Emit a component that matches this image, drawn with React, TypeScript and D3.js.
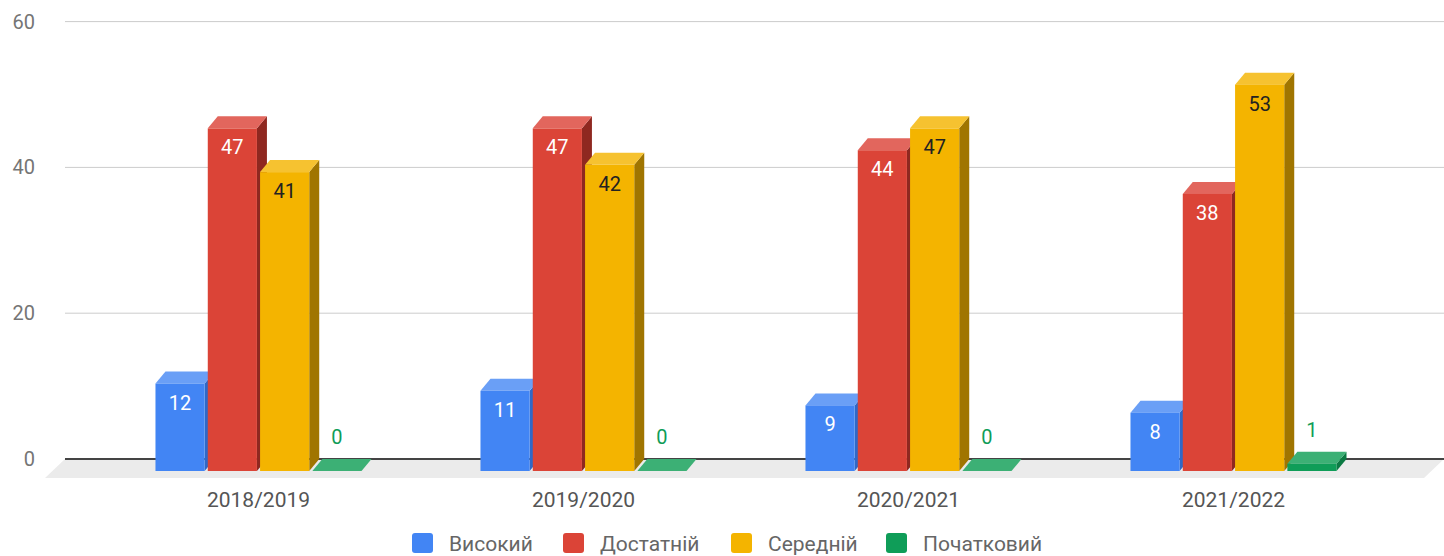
import React from "react";
import * as d3 from "d3";

const categories = ["2018/2019", "2019/2020", "2020/2021", "2021/2022"];
const seriesNames = ["Високий", "Достатній", "Середній", "Початковий"];
const highValues = [12, 11, 9, 8];
const sufficientValues = [47, 47, 44, 38];
const mediumValues = [41, 42, 47, 53];
const initialValues = [0, 0, 0, 1];
const yTicks = [0, 20, 40, 60];

const seriesValues = [highValues, sufficientValues, mediumValues, initialValues];
const colors = {
  front: ["#4285f4", "#db4437", "#f4b400", "#0f9d58"],
  top: ["#6a9ff6", "#e2665d", "#f6c230", "#3cb075"],
  side: ["#2f68c7", "#8f2820", "#a07500", "#0b7a43"],
  label: ["#ffffff", "#ffffff", "#222222", "#0f9d58"],
};

const W = 1444;
const H = 556;
const DX = 10;
const DY = 12;
const FLOOR_DX = 20;
const FLOOR_DY = 19;
const BACK_ZERO = 459;
const FRONT_ZERO = BACK_ZERO + DY;
const PX_PER_UNIT = 7.29;
const FONT = "Roboto, 'Noto Sans', Arial, sans-serif";

export default function App() {
  const yBack = d3.scaleLinear().domain([0, 60]).range([BACK_ZERO, BACK_ZERO - 60 * PX_PER_UNIT]);
  const yFront = d3.scaleLinear().domain([0, 60]).range([FRONT_ZERO, FRONT_ZERO - 60 * PX_PER_UNIT]);
  const x0 = d3.scaleBand<string>().domain(categories).range([96, 1396]).paddingInner(0.366).paddingOuter(0.183);
  const x1 = d3.scaleBand<string>().domain(seriesNames).range([0, x0.bandwidth()]).paddingInner(0.06).paddingOuter(0);
  const bw = x1.bandwidth();

  const bars: React.ReactNode[] = [];
  categories.forEach((cat, ci) => {
    seriesNames.forEach((s, si) => {
      const v = seriesValues[si][ci];
      const x = (x0(cat) ?? 0) + (x1(s) ?? 0);
      const yT = yFront(v);
      const yB = yFront(0);
      const key = `${ci}-${si}`;
      bars.push(
        <g key={key}>
          <polygon
            points={`${x + bw},${yT} ${x + bw + DX},${yT - DY} ${x + bw + DX},${yB - DY} ${x + bw},${yB}`}
            fill={colors.side[si]}
          />
          <polygon
            points={`${x},${yT} ${x + DX},${yT - DY} ${x + bw + DX},${yT - DY} ${x + bw},${yT}`}
            fill={colors.top[si]}
          />
          {yB - yT > 0 && <rect x={x} y={yT} width={bw} height={yB - yT} fill={colors.front[si]} />}
        </g>
      );
    });
  });

  const labels: React.ReactNode[] = [];
  categories.forEach((cat, ci) => {
    seriesNames.forEach((s, si) => {
      const v = seriesValues[si][ci];
      const x = (x0(cat) ?? 0) + (x1(s) ?? 0) + bw / 2;
      const yT = yFront(v);
      const inside = si !== 3;
      labels.push(
        <text
          key={`l-${ci}-${si}`}
          x={x}
          y={inside ? yT + 26 : yT - 27}
          textAnchor="middle"
          fontFamily={FONT}
          fontSize={20}
          fill={colors.label[si]}
        >
          {v}
        </text>
      );
    });
  });

  const legendX = [412, 563, 731, 886];

  return (
    <svg width={W} height={H} style={{ position: "absolute", left: 0, top: 0, background: "#fff" }}>
      {yTicks.map((t) => (
        <g key={`g-${t}`}>
          {t !== 0 && <line x1={65} x2={W} y1={yBack(t)} y2={yBack(t)} stroke="#cccccc" strokeWidth={1} />}
          <text x={35} y={yBack(t) + 7} textAnchor="end" fontFamily={FONT} fontSize={20} fill="#757575">
            {t}
          </text>
        </g>
      ))}
      <polygon
        points={`65,${BACK_ZERO} ${W},${BACK_ZERO} ${W - FLOOR_DX},${BACK_ZERO + FLOOR_DY} 45,${BACK_ZERO + FLOOR_DY}`}
        fill="#ebebeb"
      />
      <line x1={65} x2={W} y1={BACK_ZERO} y2={BACK_ZERO} stroke="#444" strokeWidth={2} />
      {bars}
      {labels}
      {categories.map((c) => (
        <text
          key={c}
          x={(x0(c) ?? 0) + x0.bandwidth() / 2}
          y={507}
          textAnchor="middle"
          fontFamily={FONT}
          fontSize={21}
          fill="#555"
        >
          {c}
        </text>
      ))}
      {seriesNames.map((s, i) => (
        <g key={`leg-${s}`}>
          <rect x={legendX[i]} y={533} width={21} height={20} rx={3} fill={colors.front[i]} />
          <text x={legendX[i] + 37} y={551} fontFamily={FONT} fontSize={21} fill="#666">
            {s}
          </text>
        </g>
      ))}
    </svg>
  );
}
